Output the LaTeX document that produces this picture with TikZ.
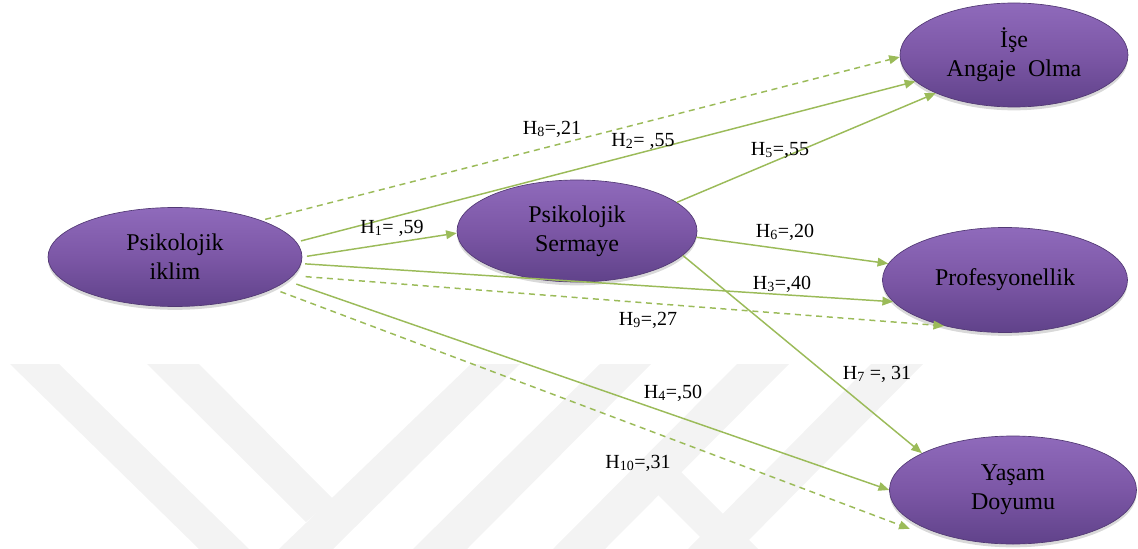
\documentclass[tikz,border=0pt]{standalone}
\usepackage{fontspec}
\setmainfont{Liberation Serif}
\usetikzlibrary{arrows.meta,shapes.geometric,shadows}
\definecolor{pathgreen}{RGB}{155,187,89}
\definecolor{elltop}{RGB}{143,106,187}
\definecolor{ellmid}{RGB}{124,87,166}
\definecolor{ellbot}{RGB}{96,66,138}
\definecolor{ellline}{RGB}{82,57,116}
\definecolor{wmark}{RGB}{243,243,243}

\begin{document}
\begin{tikzpicture}[x=0.75pt,y=-0.75pt,
  latent/.style={ellipse,draw=ellline,line width=0.5pt,top color=elltop,bottom color=ellbot,middle color=ellmid,
    drop shadow={opacity=0.3,shadow xshift=0pt,shadow yshift=-2.5pt},align=center,inner sep=0pt,
    font=\fontsize{18}{22}\selectfont},
  effect/.style={draw=pathgreen,line width=1.1pt,-{Triangle[length=8pt,width=6.5pt]}},
  weak/.style={effect,dash pattern=on 4.5pt off 3.5pt},
  coef/.style={font=\fontsize{15}{18}\selectfont,inner sep=1pt}]
  \useasboundingbox (0,0) rectangle (1138,549);
  \fill[wmark] (10,364) -- (59,364) -- (249,549) -- (199,549) -- cycle;
  \fill[wmark] (147,364) -- (199,364) -- (333,499) -- (306,522) -- cycle;
  \fill[wmark] (471,364) -- (520,364) -- (333,549) -- (279,549) -- cycle;
  \fill[wmark] (600,364) -- (651,364) -- (467,549) -- (413,549) -- cycle;
  \fill[wmark] (737,364) -- (789,364) -- (605,549) -- (553,549) -- cycle;
  \fill[wmark] (871,364) -- (923,364) -- (740,549) -- (688,549) -- cycle;
  \fill[wmark] (633,470) -- (679,470) -- (758,549) -- (712,549) -- cycle;

  \node[latent,minimum width=190.5pt,minimum height=74.25pt] (pi) at (175,257) {Psikolojik\\iklim};
  \node[latent,minimum width=180pt,minimum height=76.5pt] (ps) at (577,231) {Psikolojik\\Sermaye};
  \node[latent,minimum width=171pt,minimum height=78pt] (iao) at (1014,55) {İşe\\Angaje~ Olma};
  \node[latent,minimum width=183.75pt,minimum height=78.75pt] (pro) at (1005,280) {Profesyonellik};
  \node[latent,minimum width=185.25pt,minimum height=81pt] (yd) at (1013,490) {Yaşam\\Doyumu};
  \coordinate (ydtip) at ([shift={(-10,3)}]yd.201);

  \draw[weak,shorten <=3pt] (pi.23) -- (iao.181);
  \draw[effect,shorten <=3.5pt] (pi.7.5) -- (iao.195);
  \draw[effect,shorten <=3.5pt] (pi.0) -- (ps.181);
  \draw[effect] (ps.16) -- (iao.206);
  \draw[effect] (ps.-3) -- (pro.172);
  \draw[effect,shorten <=3pt] (pi.-3) -- (pro.191);
  \draw[weak,shorten <=9.5pt] (pi.-9.2) -- (pro.217);
  \draw[effect] (ps.-13) -- (yd.158);
  \draw[effect,shorten <=7.5pt] (pi.-12.6) -- (yd.180);
  \draw[weak,shorten <=6pt] (pi.-18.3) -- (ydtip);

  \node[coef] (lh8) at (552,129) {H\textsubscript{8}=,21};
  \node[coef] (lh2) at (643,141) {H\textsubscript{2}= ,55};
  \node[coef] (lh5) at (780,150) {H\textsubscript{5}=,55};
  \node[coef] (lh1) at (392,228) {H\textsubscript{1}= ,59};
  \node[coef] (lh6) at (785,232) {H\textsubscript{6}=,20};
  \node[coef] (lh3) at (782,284) {H\textsubscript{3}=,40};
  \node[coef] (lh9) at (648,320) {H\textsubscript{9}=,27};
  \node[coef] (lh7) at (877,374) {H\textsubscript{7} =, 31};
  \node[coef] (lh4) at (673,393) {H\textsubscript{4}=,50};
  \node[coef] (lh10) at (638,463) {H\textsubscript{10}=,31};
\end{tikzpicture}
\end{document}
